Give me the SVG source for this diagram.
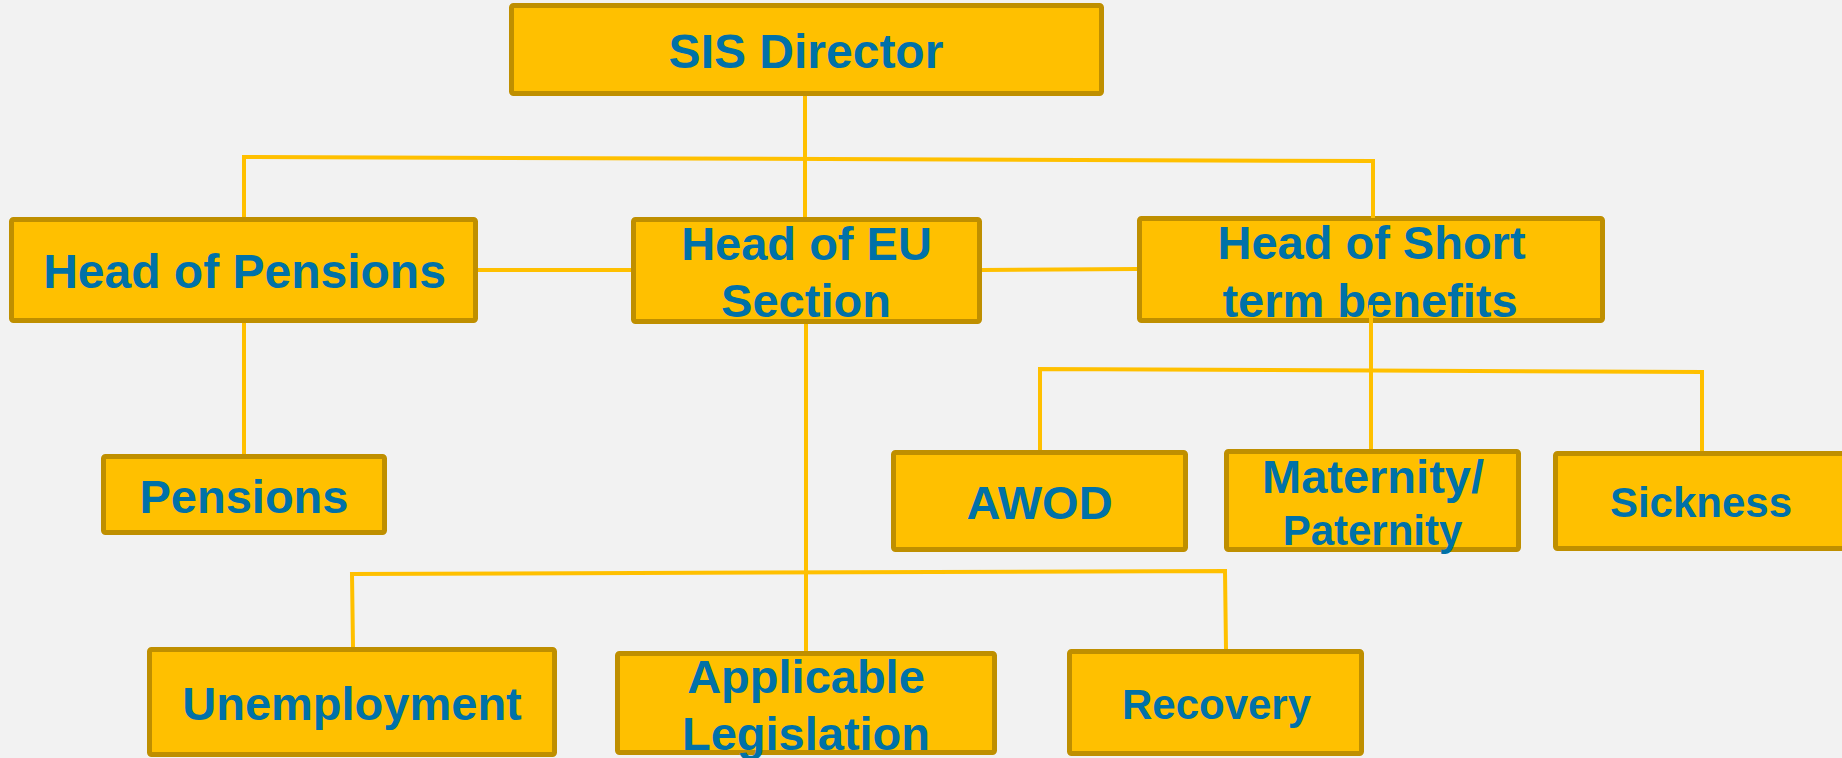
<svg xmlns="http://www.w3.org/2000/svg" width="1842" height="758" viewBox="0 0 1842 758">
<style>
.box{fill:#FFC000;stroke:#BF8F00;stroke-width:5}
.t{font-family:"Liberation Sans",Arial,sans-serif;font-weight:bold;fill:#0071A8;text-anchor:middle}
.l{font-size:48px}.m{font-size:47px}.s{font-size:42px}
.c{stroke:#FFC000;stroke-width:4;fill:none}
</style>
<rect width="1842" height="758" fill="#F2F2F2"/>
<g id="n-director"><rect class="box" x="511.5" y="5.5" width="590" height="88" rx="2"/><text class="t l" x="806" y="68">SIS Director</text></g>
<g id="n-head-pensions"><rect class="box" x="11.5" y="219.5" width="464" height="101" rx="2"/><text class="t l" x="244.5" y="288">Head of Pensions</text></g>
<g id="n-head-eu"><rect class="box" x="633.5" y="219.5" width="346" height="102" rx="2"/><text class="t m" x="806.5" y="260">Head of EU</text><text class="t m" x="806" y="317">Section</text></g>
<g id="n-head-short"><rect class="box" x="1139.5" y="218.5" width="463" height="102" rx="2"/><text class="t m" x="1371.5" y="259">Head of Short</text><text class="t m" x="1370" y="317">term benefits</text></g>
<g id="n-pensions"><rect class="box" x="103.5" y="456.5" width="281" height="76" rx="2"/><text class="t m" x="244" y="513">Pensions</text></g>
<g id="n-awod"><rect class="box" x="893.5" y="452.5" width="292" height="97" rx="2"/><text class="t m" x="1039.5" y="519">AWOD</text></g>
<g id="n-maternity"><rect class="box" x="1226.5" y="451.5" width="292" height="98" rx="2"/><text class="t m" x="1373" y="493">Maternity/</text><text class="t s" x="1372.5" y="545">Paternity</text></g>
<g id="n-sickness"><rect class="box" x="1555.5" y="453.5" width="300" height="95" rx="2"/><text class="t s" x="1701" y="517">Sickness</text></g>
<g id="n-unemployment"><rect class="box" x="149.5" y="649.5" width="405" height="105" rx="2"/><text class="t m" x="352" y="720">Unemployment</text></g>
<g id="n-applicable"><rect class="box" x="617.5" y="653.5" width="377" height="99" rx="2"/><text class="t m" x="806" y="693">Applicable</text><text class="t m" x="806" y="750">Legislation</text></g>
<g id="n-recovery"><rect class="box" x="1069.5" y="651.5" width="292" height="102" rx="2"/><text class="t s" x="1216.5" y="719">Recovery</text></g>
<g id="connectors" class="c">
<path d="M805 96V217"/>
<path d="M244 217V157L1373 161V218"/>
<path d="M478 270H631"/>
<path d="M982 270L1137 269"/>
<path d="M244 323V454"/>
<path d="M1371 305V449"/>
<path d="M1040 450V369L1702 372V451"/>
<path d="M806 324V651"/>
<path d="M353 647L352 574L1225 571L1226 649"/>
</g>
</svg>
